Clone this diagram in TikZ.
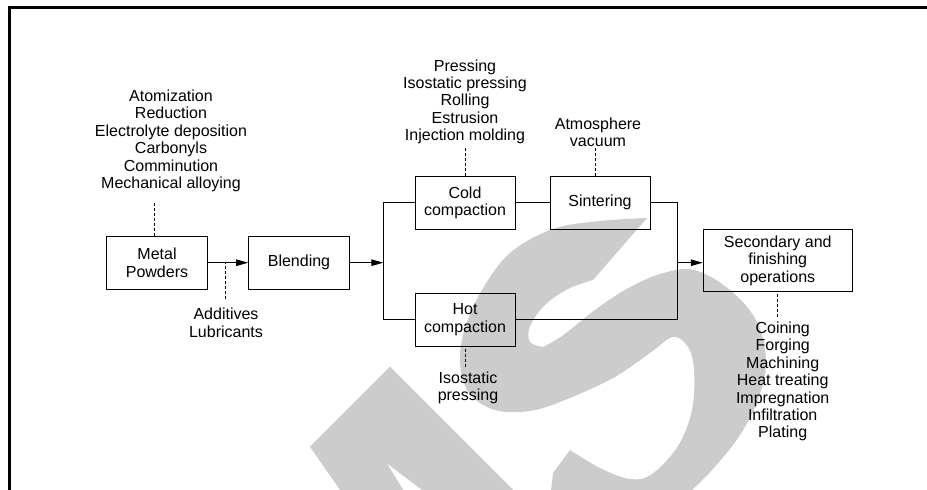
\documentclass[tikz,border=0pt]{standalone}
\usepackage{fontspec}
\setmainfont{Liberation Sans}
\usetikzlibrary{arrows.meta}
\definecolor{wmgrey}{RGB}{204,204,204}
\begin{document}
\begin{tikzpicture}[x=1pt,y=-1pt,
  every node/.style={font=\fontsize{16}{17.4}\selectfont, inner sep=0pt},
  procbox/.style={draw, line width=1pt, minimum width=100pt, minimum height=53.3pt, align=center},
  note/.style={align=center},
  flow/.style={line width=1pt},
  arrowflow/.style={flow, -{Triangle[length=12pt,width=6.5pt]}},
  dashlink/.style={line width=1pt, dash pattern=on 3pt off 2pt},
  wmfill/.style={fill=wmgrey}]

\useasboundingbox (0,0) rectangle (927,490);
\fill[white] (0,0) rectangle (927,490);

% background lettering
\begin{scope}
  \clip (0,0) rectangle (927,490);
  \fill[wmfill] plot[smooth, tension=0.6] coordinates {(647,218) (600,221) (553,229) (510,253) (482,290) (465,328) (460,362) (469,393) (495,410) (530,411) (565,400) (613,378) (650,353) (673,337) (688,347) (694,370) (692,410) (678,446) (652,474) (630,479) (600,468) (570,450)}
    -- (553,473) -- (550,500) -- (690,500)
    -- plot[smooth, tension=0.6] coordinates {(692,490) (712,470) (738,438) (757,402) (766,363) (757,322) (730,290) (694,270) (660,274) (625,290) (595,310) (562,336) (543,347)}
    -- plot[smooth, tension=0.6] coordinates {(543,347) (530,342) (530,326) (545,305) (568,289) (593,280)}
    -- cycle;
  \fill[wmfill] (390,366.7) -- (515.3,492) -- (424.8,492) -- (386.7,463.3) -- (404.5,492) -- (341.4,492) -- (310,446.7) -- cycle;
\end{scope}

% frame
\draw[line width=2.2pt] (9.5,490) -- (9.5,7.5) -- (927,7.5);

% process boxes
\node[procbox, minimum width=100.6pt] (mp) at (157,262.7) {Metal\\Powders};
\node[procbox, minimum width=100.6pt] (blend) at (299,262.7) {Blending};
\node[procbox] (cold) at (465,202.7) {Cold\\compaction};
\node[procbox] (sint) at (600,202.7) {Sintering};
\node[procbox] (hot) at (465,319.7) {Hot\\compaction};
\node[procbox, minimum width=149pt, minimum height=62.4pt] (sec) at (777.8,260.5) {Secondary and\\finishing\\operations};

% notes
\node[note] (srcs) at (171,140.8) {Atomization\\Reduction\\Electrolyte deposition\\Carbonyls\\Comminution\\Mechanical alloying};
\node[note] (adds) at (226,322.9) {Additives\\Lubricants};
\node[note] (press) at (465,101.8) {Pressing\\Isostatic pressing\\Rolling\\Estrusion\\Injection molding};
\node[note] (atm) at (598,132.5) {Atmosphere\\vacuum};
\node[note] (iso) at (468,388) {Isostatic\\pressing};
\node[note] (fin) at (782.7,381.5) {Coining\\Forging\\Machining\\Heat treating\\Impregnation\\Infiltration\\Plating};

% main flow
\coordinate (split) at (383.3,262.7);
\coordinate (join) at (677.7,262.7);
\draw[arrowflow] (mp.east) -- (blend.west);
\draw[arrowflow] (blend.east) -- (split);
\draw[flow] (cold.west) -| (split) |- (hot.west);
\draw[flow] (cold.east) -- (sint.west);
\draw[flow] (sint.east) -| (join) |- (hot.east);
\draw[arrowflow] (join) -- (join -| sec.west);

% dashed ties to notes
\coordinate (d1) at (154.3,203.3);
\coordinate (d2) at (225.7,299);
\coordinate (d3) at (465.7,148);
\coordinate (d4) at (595,148);
\coordinate (d5) at (465.7,366.7);
\coordinate (d6) at (777.7,316.7);
\draw[dashlink] (d1) -- (d1 |- mp.north);
\draw[dashlink] (d2) -- (d2 |- mp.east);
\draw[dashlink] (d3) -- (d3 |- cold.north);
\draw[dashlink] (d4) -- (d4 |- sint.north);
\draw[dashlink] (d5) -- (d5 |- hot.south);
\draw[dashlink] (d6) -- (d6 |- sec.south);
\end{tikzpicture}
\end{document}
